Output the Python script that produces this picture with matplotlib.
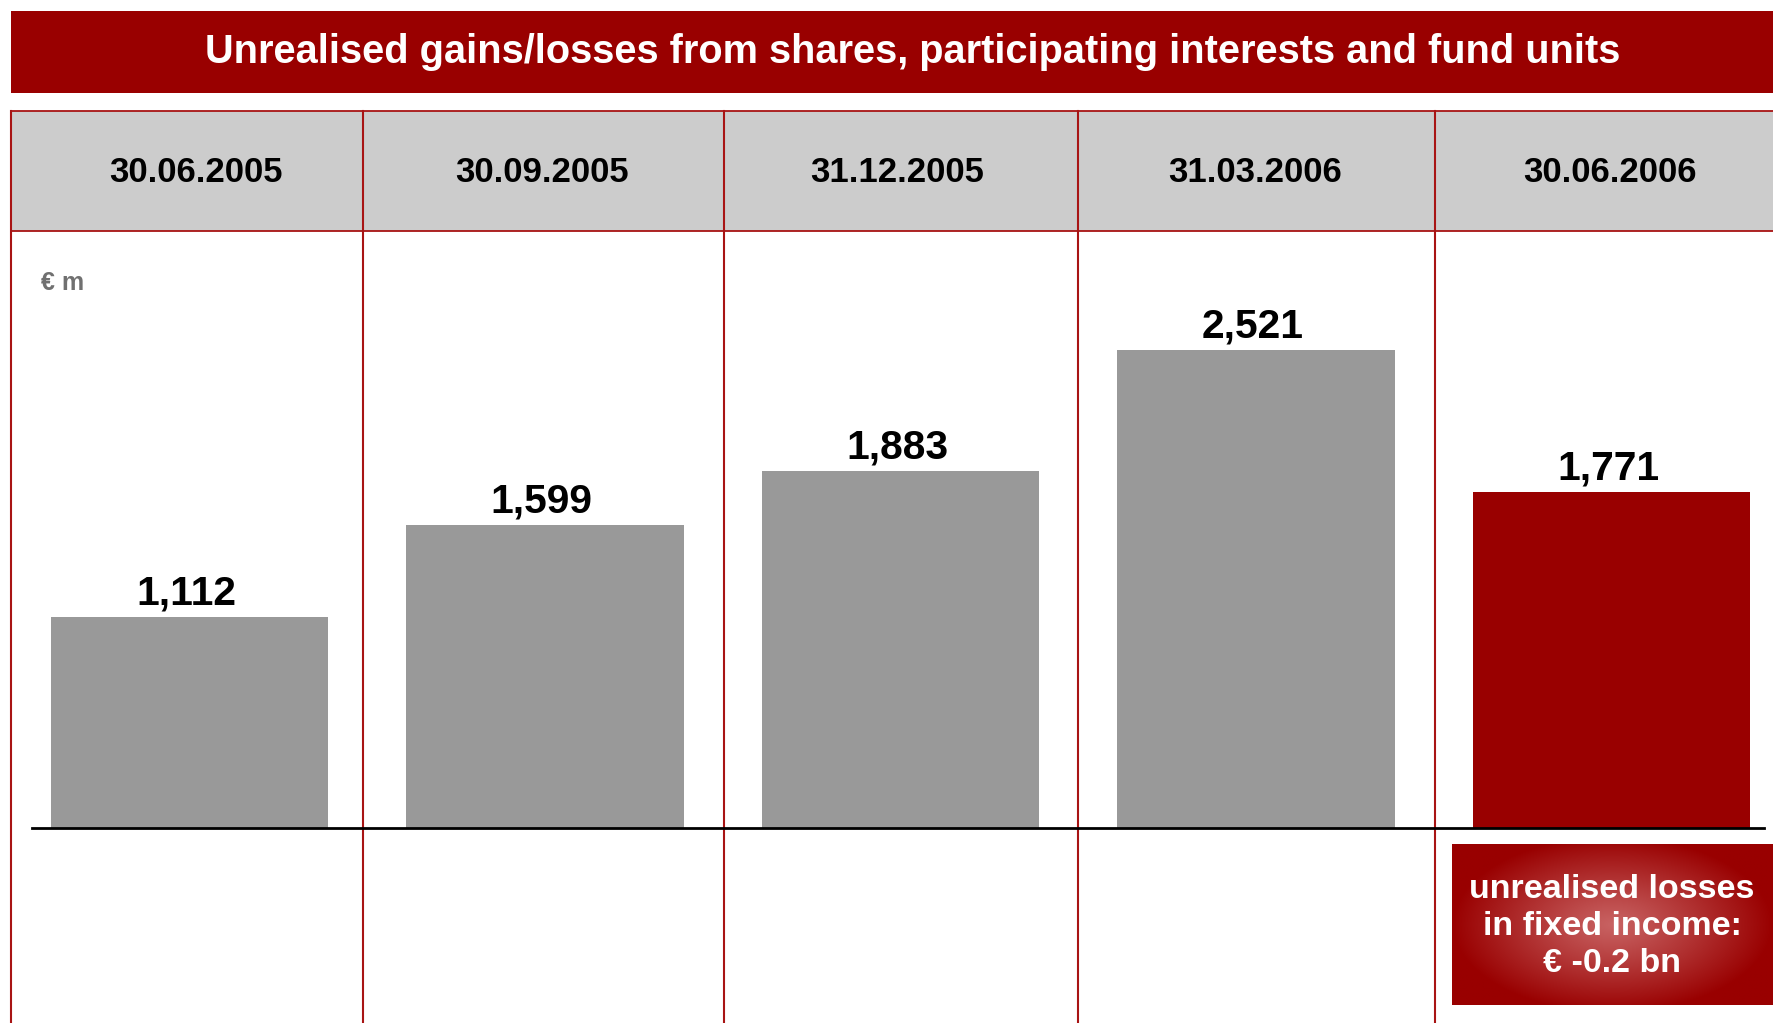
import numpy as np
import matplotlib
matplotlib.use("Agg")
import matplotlib.pyplot as plt
from matplotlib.patches import Rectangle

# ---- data ----
dates = ["30.06.2005", "30.09.2005", "31.12.2005", "31.03.2006", "30.06.2006"]
values = [1112, 1599, 1883, 2521, 1771]
value_labels = ["1,112", "1,599", "1,883", "2,521", "1,771"]
title = "Unrealised gains/losses from shares, participating interests and fund units"
unit_label = "€ m"
note_lines = ["unrealised losses", "in fixed income:", "€ -0.2 bn"]

plt.rcParams['font.family'] = ['Liberation Sans', 'DejaVu Sans']

W, H = 1773, 1023
fig = plt.figure(figsize=(W / 100, H / 100), dpi=100)
fig.patch.set_facecolor("white")

DARK_RED = "#990000"
LINE_RED = "#A81414"
GREY_BAR = "#999999"
HEADER_GREY = "#CCCCCC"

# background / decoration axes in pixel coordinates
bg = fig.add_axes([0, 0, 1, 1])
bg.set_xlim(0, W)
bg.set_ylim(H, 0)
bg.axis("off")

# title banner
bg.add_patch(Rectangle((11, 11), W - 11, 82, facecolor=DARK_RED, edgecolor="none"))
bg.text(913, 52, title, color="white", fontsize=28.6, fontweight="bold",
        ha="center", va="center")

# header row
col_edges = [11, 363, 724, 1078, 1435]
header_centers = [196, 542, 897, 1255, 1610]
bg.add_patch(Rectangle((11, 111), W - 11, 120, facecolor=HEADER_GREY, edgecolor="none"))
bg.plot([11, W], [111, 111], color=LINE_RED, lw=1.3)
bg.plot([11, W], [231, 231], color=LINE_RED, lw=1.3)
for x in col_edges:
    bg.plot([x, x], [111, H], color=LINE_RED, lw=1.5)
for cx, d in zip(header_centers, dates):
    bg.text(cx, 172, d, fontsize=25, fontweight="bold", color="black",
            ha="center", va="center")

bg.text(41, 283, unit_label, fontsize=18, fontweight="bold", color="#707070",
        ha="left", va="center")

# note box with radial gradient
bx0, by0, bx1, by1 = 1452, 844, W, 1005
nx, ny = 300, 150
xx = np.linspace(-1, 1, nx)
yy = np.linspace(-1, 1, ny)
X, Y = np.meshgrid(xx, yy)
R = np.clip(np.sqrt((X / 1.0) ** 2 + (Y / 1.1) ** 2), 0, 1)
c_center = np.array([0xC8, 0x62, 0x62]) / 255.0
c_edge = np.array([0x99, 0x00, 0x00]) / 255.0
t = R ** 1.1
img = c_center[None, None, :] * (1 - t[..., None]) + c_edge[None, None, :] * t[..., None]
bg.imshow(img, extent=(bx0, bx1, by1, by0), aspect="auto", zorder=2, interpolation="bilinear")
bg.set_xlim(0, W)
bg.set_ylim(H, 0)
for k, line in enumerate(note_lines):
    bg.text(1612, 889 + k * 37.3, line, fontsize=24.5, fontweight="bold", color="white",
            ha="center", va="center", zorder=3)

# main bar axes
px_per_unit = 355.5
ax_left_px, ax_right_px = 32, 1764
base_px, top_px = 828, 231
ax = fig.add_axes([ax_left_px / W, 1 - base_px / H,
                   (ax_right_px - ax_left_px) / W, (base_px - top_px) / H])
ax.patch.set_alpha(0)
x0 = -(189.5 - ax_left_px) / px_per_unit
ax.set_xlim(x0, x0 + (ax_right_px - ax_left_px) / px_per_unit)
ymax = (base_px - top_px) / 0.1895
ax.set_ylim(0, ymax)

xs = np.arange(len(values))
colors = [GREY_BAR] * (len(values) - 1) + [DARK_RED]
ax.bar(xs, values, width=0.78, color=colors, edgecolor="none", zorder=2)
for x, v, lab in zip(xs, values, value_labels):
    ax.text(x - 0.01, v + 25, lab, fontsize=29.3, fontweight="bold", color="black",
            ha="center", va="bottom")

for s in ["top", "right", "left"]:
    ax.spines[s].set_visible(False)
ax.spines["bottom"].set_color("black")
ax.spines["bottom"].set_linewidth(2)
ax.spines["bottom"].set_zorder(3)
ax.set_xticks([])
ax.set_yticks([])

fig.savefig("out.png", dpi=100, facecolor="white")
